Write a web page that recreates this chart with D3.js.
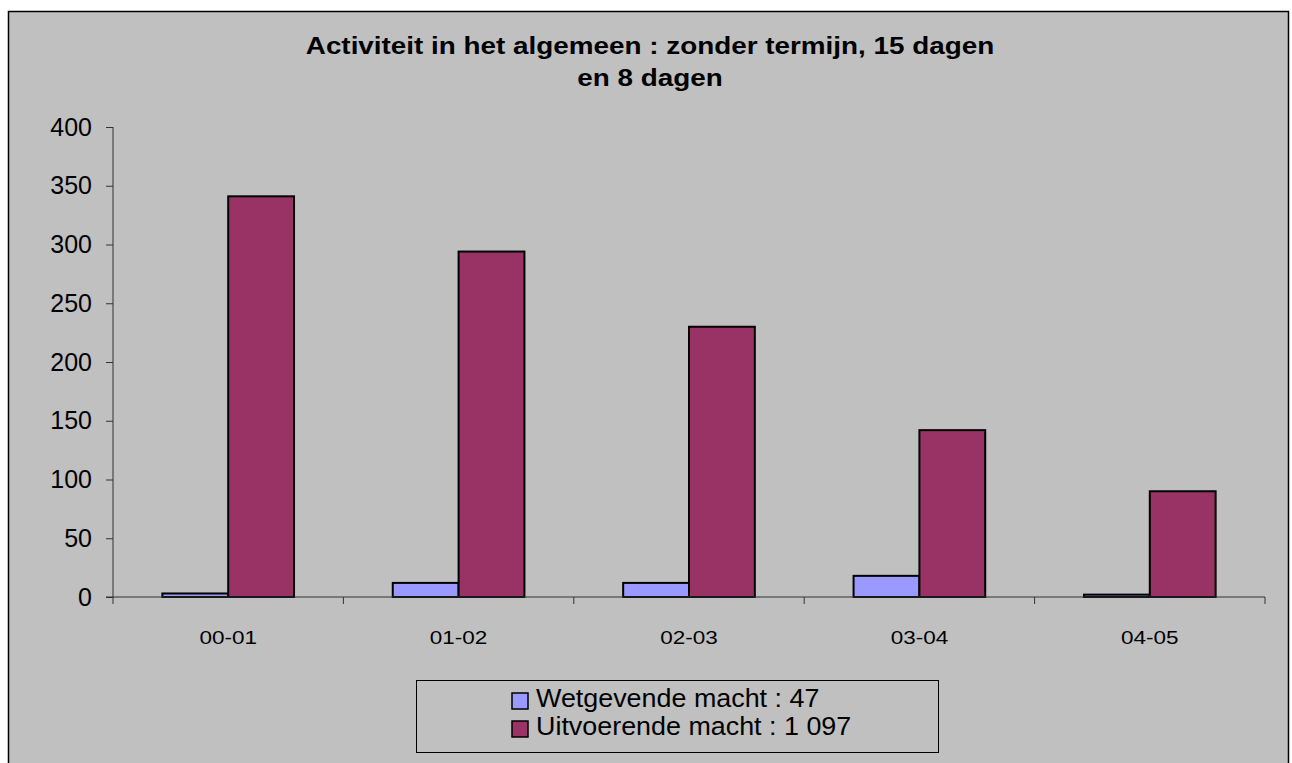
<!DOCTYPE html>
<html>
<head>
<meta charset="utf-8">
<script src="https://cdn.jsdelivr.net/npm/d3@7"></script>
<style>
  body { margin: 0; background: #fff; }
  text { font-family: "Liberation Sans", Arial, sans-serif; }
</style>
</head>
<body>
<div id="chart"></div>
<script>
// Chart data
var years = ["00-01", "01-02", "02-03", "03-04", "04-05"];
var wetgevend = [3, 12, 12, 18, 2];
var uitvoerend = [341, 294, 230, 142, 90];
var seriesNames = ["Wetgevende macht : 47", "Uitvoerende macht : 1 097"];
var seriesColors = ["#9999ff", "#993366"];
var yTicks = [0, 50, 100, 150, 200, 250, 300, 350, 400];
var titleLines = ["Activiteit in het algemeen : zonder termijn, 15 dagen", "en 8 dagen"];

var svgWidth = 1292;
var svgHeight = 763;

var plot = { left: 113, right: 1265, top: 127, bottom: 597 };

var svg = d3.select("#chart")
    .append("svg")
    .attr("width", svgWidth)
    .attr("height", svgHeight);

// stretch a text a little wider, like the original rendering
function widen(sel, factor) {
    sel.each(function () {
        var w = this.getComputedTextLength();
        d3.select(this)
            .attr("textLength", w * factor)
            .attr("lengthAdjust", "spacingAndGlyphs");
    });
}

// chart area background with border
svg.append("rect")
    .attr("x", 8.5)
    .attr("y", 11.5)
    .attr("width", 1280)
    .attr("height", 760)
    .attr("fill", "#c0c0c0")
    .attr("stroke", "#000")
    .attr("stroke-width", 1.5);

// Title
var titleText = svg.selectAll(".title")
    .data(titleLines)
    .enter()
    .append("text")
    .attr("class", "title")
    .attr("x", 650)
    .attr("y", (d, i) => 54 + i * 32)
    .attr("text-anchor", "middle")
    .attr("font-size", 24)
    .attr("font-weight", "bold")
    .attr("fill", "#000")
    .text(d => d);
widen(titleText, 1.16);

// Scales
var xScale = d3.scaleBand()
    .domain(years)
    .range([plot.left, plot.right]);

var xInner = d3.scaleBand()
    .domain([0, 1])
    .range([0, xScale.bandwidth()])
    .paddingInner(0)
    .paddingOuter(0.75);

var yScale = d3.scaleLinear()
    .domain([0, 400])
    .range([plot.bottom, plot.top]);

// Bars
var data = years.map(function (y, i) {
    return { year: y, values: [wetgevend[i], uitvoerend[i]] };
});

var groups = svg.selectAll(".group")
    .data(data)
    .enter()
    .append("g")
    .attr("transform", d => `translate(${xScale(d.year)},0)`);

groups.selectAll("rect")
    .data(d => d.values.map((v, k) => ({ k: k, v: v })))
    .enter()
    .append("rect")
    .attr("x", d => xInner(d.k))
    .attr("y", d => yScale(d.v))
    .attr("width", xInner.bandwidth())
    .attr("height", d => yScale(0) - yScale(d.v))
    .attr("fill", d => seriesColors[d.k])
    .attr("stroke", "#000")
    .attr("stroke-width", 2);

// Y axis
var leftAxis = d3.axisLeft(yScale)
    .tickValues(yTicks)
    .tickSize(7)
    .tickPadding(14);

var yAxisG = svg.append("g")
    .attr("transform", `translate(${plot.left},0)`)
    .call(leftAxis);
yAxisG.select(".domain").attr("stroke", "#333").attr("d", `M0,${plot.top}V${plot.bottom}`);
yAxisG.selectAll(".tick line").attr("stroke", "#333");
yAxisG.selectAll(".tick text")
    .attr("font-size", 25)
    .attr("font-family", "Liberation Sans, Arial, sans-serif")
    .attr("fill", "#000");

// X axis
var bottomAxis = d3.axisBottom(xScale)
    .tickSize(0)
    .tickPadding(34);

var xAxisG = svg.append("g")
    .attr("transform", `translate(0,${plot.bottom})`)
    .call(bottomAxis);
xAxisG.select(".domain").attr("stroke", "#333").attr("d", `M${plot.left - 7},0H${plot.right}`);
var xLabels = xAxisG.selectAll(".tick text")
    .attr("font-size", 18)
    .attr("font-family", "Liberation Sans, Arial, sans-serif")
    .attr("fill", "#000");
widen(xLabels, 1.25);

// category separator ticks
var boundaries = years.map(y => xScale(y)).concat([plot.right]);
svg.append("g")
    .selectAll("line")
    .data(boundaries)
    .enter()
    .append("line")
    .attr("x1", d => d)
    .attr("x2", d => d)
    .attr("y1", plot.bottom)
    .attr("y2", plot.bottom + 7)
    .attr("stroke", "#333");

// Legend
var legend = svg.append("g");
legend.append("rect")
    .attr("x", 416.5)
    .attr("y", 680.5)
    .attr("width", 522)
    .attr("height", 72)
    .attr("fill", "#c0c0c0")
    .attr("stroke", "#000")
    .attr("stroke-width", 1);

var items = legend.selectAll(".item")
    .data(seriesNames)
    .enter()
    .append("g")
    .attr("transform", (d, i) => `translate(512,${693 + i * 28})`);

items.append("rect")
    .attr("width", 16)
    .attr("height", 16)
    .attr("fill", (d, i) => seriesColors[i])
    .attr("stroke", "#000")
    .attr("stroke-width", 1.5);

var legendText = items.append("text")
    .attr("x", 24)
    .attr("y", 14)
    .attr("font-size", 25)
    .attr("fill", "#000")
    .text(d => d);
widen(legendText, 1.075);
</script>
</body>
</html>
